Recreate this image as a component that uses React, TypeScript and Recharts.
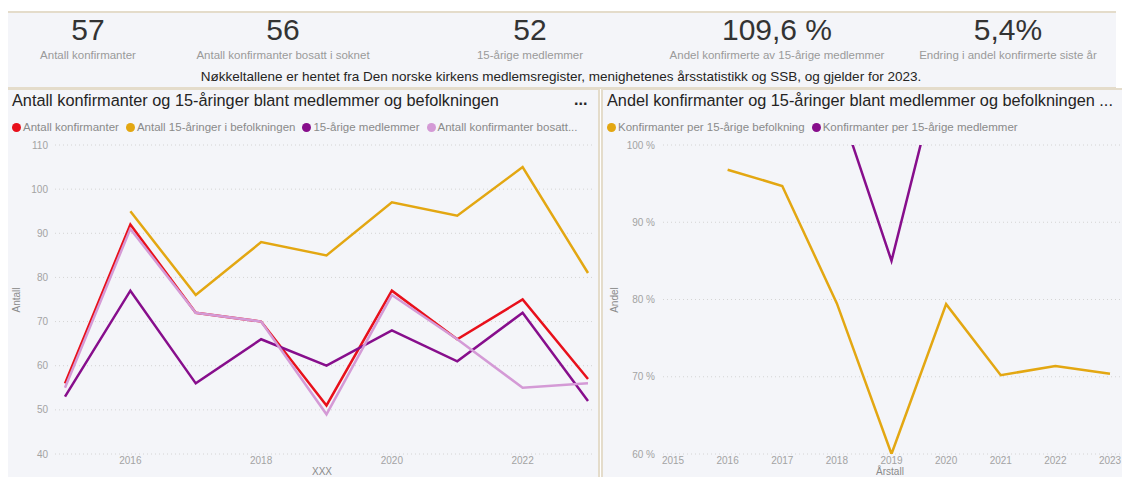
import React from "react";
import { LineChart, Line, XAxis, YAxis, CartesianGrid } from "recharts";

const years = [2015, 2016, 2017, 2018, 2019, 2020, 2021, 2022, 2023];
const antallKonfirmanter = [56, 92, 72, 70, 51, 77, 66, 75, 57];
const antallBefolkning = [null, 95, 76, 88, 85, 97, 94, 105, 81];
const aarigeMedlemmer = [53, 77, 56, 66, 60, 68, 61, 72, 52];
const konfirmanterBosatt = [55, 91, 72, 70, 49, 76, 66, 55, 56];
const andelBefolkning = [null, 96.8, 94.7, 79.5, 60.0, 79.4, 70.2, 71.4, 70.4];
const andelMedlemmer = [105.7, 119.5, 128.6, 106.1, 85.0, 113.2, 108.2, 104.2, 109.6];

const leftTicksX = [2016, 2018, 2020, 2022];
const leftTicksY = [40, 50, 60, 70, 80, 90, 100, 110];
const rightTicksY = [60, 70, 80, 90, 100];

const kpis = [
  { value: "57", label: "Antall konfirmanter", cx: 88 },
  { value: "56", label: "Antall konfirmanter bosatt i soknet", cx: 283 },
  { value: "52", label: "15-årige medlemmer", cx: 530 },
  { value: "109,6 %", label: "Andel konfirmerte av 15-årige medlemmer", cx: 777 },
  { value: "5,4%", label: "Endring i andel konfirmerte siste år", cx: 1008 },
];

const leftLegend = [
  { name: "Antall konfirmanter", color: "#e8101b" },
  { name: "Antall 15-åringer i befolkningen", color: "#e3a712" },
  { name: "15-årige medlemmer", color: "#870e8c" },
  { name: "Antall konfirmanter bosatt...", color: "#d49ad6" },
];
const rightLegend = [
  { name: "Konfirmanter per 15-årige befolkning", color: "#e3a712" },
  { name: "Konfirmanter per 15-årige medlemmer", color: "#870e8c" },
];

const leftData = years.map((y, i) => ({
  year: y,
  konf: antallKonfirmanter[i],
  bef: antallBefolkning[i],
  medl: aarigeMedlemmer[i],
  bos: konfirmanterBosatt[i],
}));
const rightData = years.map((y, i) => ({
  year: y,
  bef: andelBefolkning[i],
  medl: andelMedlemmer[i],
}));

const FONT = "'Liberation Sans', Arial, 'DejaVu Sans', sans-serif";
const BG = "#f4f5f9";
const BORDER = "#e4dccb";
const tickStyle = { fontSize: 10, fill: "#a3a3a3", fontFamily: FONT };

const abs = (s: React.CSSProperties): React.CSSProperties => ({ position: "absolute", ...s });

function Legend({ items, left, top }: { items: { name: string; color: string }[]; left: number; top: number }) {
  return (
    <div style={abs({ left, top, display: "flex", alignItems: "center", whiteSpace: "nowrap", fontSize: 11.5, color: "#8a8a8a", lineHeight: "14px" })}>
      {items.map((it) => (
        <div key={it.name} style={{ display: "flex", alignItems: "center", marginRight: 7 }}>
          <span style={{ width: 9, height: 9, borderRadius: 5, background: it.color, display: "inline-block", marginRight: 2 }} />
          <span>{it.name}</span>
        </div>
      ))}
    </div>
  );
}

export default function App() {
  return (
    <div style={abs({ left: 0, top: 0, width: 1122, height: 477, background: "#ffffff", overflow: "hidden", fontFamily: FONT })}>
      {/* KPI panel */}
      <div style={abs({ left: 8, top: 11, width: 1108, height: 74, background: BG, borderTop: `2px solid ${BORDER}`, borderBottom: `2px solid ${BORDER}` })} />
      {kpis.map((k) => (
        <React.Fragment key={k.label}>
          <div style={abs({ left: k.cx - 120, top: 13, width: 240, textAlign: "center", fontSize: 30, color: "#333333", lineHeight: "34px" })}>{k.value}</div>
          <div style={abs({ left: k.cx - 130, top: 48, width: 260, textAlign: "center", fontSize: 11.5, color: "#9a9a9a", lineHeight: "15px" })}>{k.label}</div>
        </React.Fragment>
      ))}
      <div style={abs({ left: 0, top: 68, width: 1122, textAlign: "center", fontSize: 13.5, color: "#252423", lineHeight: "17px" })}>
        Nøkkeltallene er hentet fra Den norske kirkens medlemsregister, menighetenes årsstatistikk og SSB, og gjelder for 2023.
      </div>

      {/* Left panel */}
      <div style={abs({ left: 8, top: 88, width: 590, height: 389, background: BG, borderTop: `2px solid ${BORDER}`, borderRight: `2px solid ${BORDER}` })} />
      <div style={abs({ left: 12, top: 90, fontSize: 16.3, color: "#252423", whiteSpace: "nowrap", lineHeight: "21px" })}>
        Antall konfirmanter og 15-åringer blant medlemmer og befolkningen
      </div>
      <div style={abs({ left: 574, top: 90, fontSize: 16, fontWeight: "bold", color: "#252423", lineHeight: "20px" })}>...</div>
      <Legend items={leftLegend} left={12} top={120} />
      <div style={abs({ left: 17 - 30, top: 300 - 8, width: 60, textAlign: "center", fontSize: 10, color: "#8a8a8a", transform: "rotate(-90deg)", lineHeight: "16px" })}>Antall</div>
      <div style={abs({ left: 322 - 30, top: 467, width: 60, textAlign: "center", fontSize: 10, color: "#8a8a8a", lineHeight: "10px" })}>XXX</div>
      <div style={abs({ left: 8, top: 130 })}>
        <LineChart width={590} height={347} data={leftData} margin={{ top: 15, right: 4, bottom: 9, left: 0 }}>
          <CartesianGrid vertical={false} stroke="#d4d4d4" strokeDasharray="1 3" />
          <XAxis
            dataKey="year"
            type="number"
            domain={[2015, 2023]}
            ticks={leftTicksX}
            axisLine={false}
            tickLine={false}
            tickSize={0}
            tickMargin={3}
            height={14}
            padding={{ left: 10, right: 6 }}
            tick={tickStyle}
          />
          <YAxis
            type="number"
            domain={[40, 110]}
            ticks={leftTicksY}
            axisLine={false}
            tickLine={false}
            tickSize={0}
            tickMargin={7}
            width={47}
            tick={tickStyle}
          />
          <Line dataKey="konf" stroke="#e8101b" strokeWidth={2.5} dot={false} isAnimationActive={false} />
          <Line dataKey="bef" stroke="#e3a712" strokeWidth={2.5} dot={false} isAnimationActive={false} />
          <Line dataKey="medl" stroke="#870e8c" strokeWidth={2.5} dot={false} isAnimationActive={false} />
          <Line dataKey="bos" stroke="#d49ad6" strokeWidth={2.5} dot={false} isAnimationActive={false} />
        </LineChart>
      </div>

      {/* Right panel */}
      <div style={abs({ left: 601, top: 88, width: 521, height: 389, background: BG, borderTop: `2px solid ${BORDER}`, borderLeft: `2px solid ${BORDER}` })} />
      <div style={abs({ left: 607, top: 90, fontSize: 16.3, color: "#252423", whiteSpace: "nowrap", lineHeight: "21px" })}>
        Andel konfirmanter og 15-åringer blant medlemmer og befolkningen ...
      </div>
      <Legend items={rightLegend} left={607} top={120} />
      <div style={abs({ left: 615 - 30, top: 300 - 8, width: 60, textAlign: "center", fontSize: 10, color: "#8a8a8a", transform: "rotate(-90deg)", lineHeight: "16px" })}>Andel</div>
      <div style={abs({ left: 890 - 40, top: 467, width: 80, textAlign: "center", fontSize: 10, color: "#8a8a8a", lineHeight: "10px" })}>Årstall</div>
      <div style={abs({ left: 602, top: 130 })}>
        <LineChart width={520} height={347} data={rightData} margin={{ top: 15, right: 2, bottom: 9, left: 0 }}>
          <CartesianGrid vertical={false} stroke="#d4d4d4" strokeDasharray="1 3" />
          <XAxis
            dataKey="year"
            type="number"
            domain={[2015, 2023]}
            ticks={years}
            axisLine={false}
            tickLine={false}
            tickSize={0}
            tickMargin={3}
            height={14}
            padding={{ left: 10, right: 10 }}
            tick={tickStyle}
            interval={0}
          />
          <YAxis
            type="number"
            domain={[60, 100]}
            ticks={rightTicksY}
            allowDataOverflow
            axisLine={false}
            tickLine={false}
            tickSize={0}
            tickMargin={8}
            width={61}
            tick={tickStyle}
            tickFormatter={(v: number) => `${v} %`}
          />
          <Line dataKey="bef" stroke="#e3a712" strokeWidth={2.5} dot={false} isAnimationActive={false} />
          <Line dataKey="medl" stroke="#870e8c" strokeWidth={2.5} dot={false} isAnimationActive={false} />
        </LineChart>
      </div>
    </div>
  );
}
